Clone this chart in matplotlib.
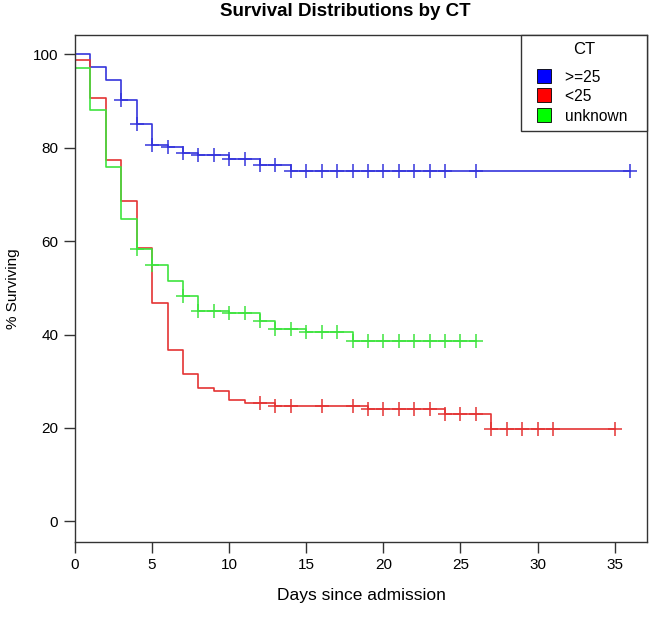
import matplotlib.pyplot as plt
from matplotlib.lines import Line2D

# step curves (Kaplan-Meier)
blue_t = [0, 1, 2, 3, 4, 5, 6, 7, 8, 10, 12, 14, 36]
blue_s = [100, 97.3, 94.6, 90.3, 85.1, 80.7, 80.2, 79.0, 78.5, 77.6, 76.4, 75.0, 75.0]
blue_ct = [3, 4, 5, 6, 7, 8, 9, 10, 11, 12, 13, 14, 15, 16, 17, 18, 19, 20, 21, 22, 23, 24, 26, 36]

red_t = [0, 0, 1, 2, 3, 4, 5, 6, 7, 8, 9, 10, 11, 13, 19, 24, 27, 35]
red_s = [100, 98.8, 90.6, 77.4, 68.6, 58.6, 46.7, 36.8, 31.5, 28.5, 27.9, 26.0, 25.4, 24.8, 24.0, 22.9, 19.8, 19.8]
red_ct = [12, 13, 14, 16, 18, 19, 20, 21, 22, 23, 24, 25, 26, 27, 28, 29, 30, 31, 35]

green_t = [0, 0, 1, 2, 3, 4, 5, 6, 7, 8, 10, 12, 13, 15, 18, 26]
green_s = [100, 97.1, 88.2, 76.0, 64.7, 58.4, 55.0, 51.5, 48.3, 45.0, 44.7, 42.9, 41.3, 40.6, 38.7, 38.7]
green_ct = [4, 5, 7, 8, 9, 10, 11, 12, 13, 14, 15, 16, 17, 18, 19, 20, 21, 22, 23, 24, 25, 26]

groups = ['>=25', '<25', 'unknown']
line_cols = ['#3535dc', '#e43434', '#3ee43e']
box_cols = ['#0000ff', '#ff0000', '#00ff00']

plt.rcParams['font.family'] = ['Liberation Sans', 'DejaVu Sans']

fig = plt.figure(figsize=(6.5, 6.17), dpi=100)
ax = fig.add_axes([75/650, 1 - 541.7/617, (647 - 75)/650, (541.7 - 35.3)/617])


def surv_at(ts, ss, t):
    v = ss[0]
    for a, b in zip(ts, ss):
        if a <= t:
            v = b
    return v


for ts, ss, cts, col in [(blue_t, blue_s, blue_ct, line_cols[0]),
                         (red_t, red_s, red_ct, line_cols[1]),
                         (green_t, green_s, green_ct, line_cols[2])]:
    ax.step(ts, ss, where='post', color=col, lw=1.2)
    ax.plot(cts, [surv_at(ts, ss, c) for c in cts], ls='none', marker='+',
            ms=10, mew=1.1, color=col)

ax.set_xlim(0, 37.1)
ax.set_ylim(-4.35, 104.1)
ax.set_xticks(range(0, 36, 5))
ax.set_yticks(range(0, 101, 20))
for s in ax.spines.values():
    s.set_color('#333333')
    s.set_linewidth(1.0)
ax.tick_params(length=8, width=1.0, color='#333333', labelsize=11, pad=4)

ax.set_xlabel('Days since admission', fontsize=12.5, labelpad=11)
ax.set_ylabel('% Surviving', fontsize=11, labelpad=9)
fig.text(345/650, 1 - 12/617, 'Survival Distributions by CT', ha='center',
         va='center', fontsize=13.5, fontweight='bold')

handles = [Line2D([], [], ls='none', marker='s', ms=9.5, mfc=c, mec='black',
                  mew=0.6) for c in box_cols]
labels = [g + '   ' for g in groups]
leg = ax.legend(handles, labels, title='CT', loc='upper right',
                bbox_to_anchor=(1.0, 1.0), fontsize=11.2, title_fontsize=12,
                fancybox=False, framealpha=1, edgecolor='#333333',
                handlelength=2.05, handleheight=0.9, borderpad=0.45,
                labelspacing=0.28, handletextpad=0.3, borderaxespad=0)
leg.get_frame().set_linewidth(1.0)
leg._legend_box.sep = 9

fig.savefig('out.png', dpi=100)
